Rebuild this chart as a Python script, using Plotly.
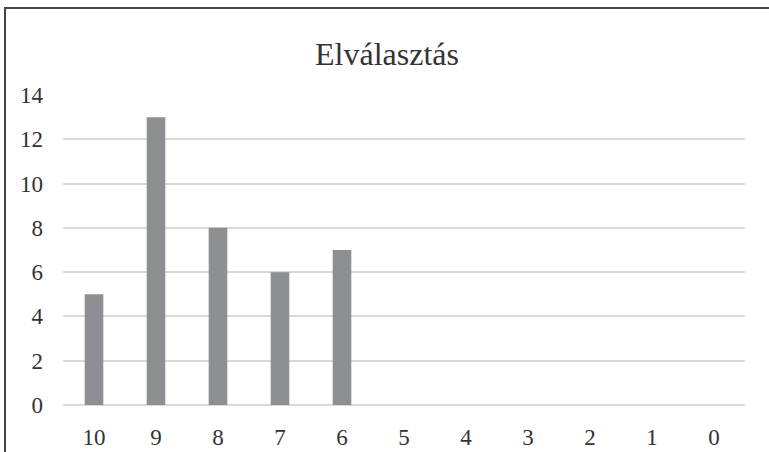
import plotly.graph_objects as go

categories = ["10", "9", "8", "7", "6", "5", "4", "3", "2", "1", "0"]
values = [5, 13, 8, 6, 7, 0, 0, 0, 0, 0, 0]
y_ticks = [0, 2, 4, 6, 8, 10, 12, 14]
title_text = "Elválasztás"

W, H = 769, 452
L, R, T, B = 63, 24, 95, 47
pw = W - L - R
ph = H - T - B

fig = go.Figure(go.Bar(
    x=categories, y=values,
    marker=dict(color="#8e8f93", line=dict(width=0)),
    width=0.3,
))

font_family = "Liberation Serif, Times New Roman, serif"

fig.update_layout(
    width=W, height=H,
    margin=dict(l=L, r=R, t=T, b=B, autoexpand=False),
    plot_bgcolor="white", paper_bgcolor="white",
    showlegend=False,
    title=dict(text=title_text, x=(387 - L) / pw, xref="paper", xanchor="center",
               y=1 - 54 / H, yref="container", yanchor="middle",
               font=dict(family=font_family, size=32, color="#333333")),
    font=dict(family=font_family, size=23, color="#333333"),
    xaxis=dict(type="category", showgrid=False, showline=False, zeroline=False,
               automargin=False, ticks="", ticklabelstandoff=16,
               tickfont=dict(size=23)),
    yaxis=dict(range=[0, 14], tickvals=y_ticks, showgrid=True, gridcolor="#d9d9d9",
               gridwidth=1.5, zeroline=True, zerolinecolor="#d9d9d9", zerolinewidth=1.5,
               automargin=False, showline=False, ticks="", ticklabelstandoff=19,
               tickfont=dict(size=23)),
)

# outer chart border (left and top edges visible)
x0 = (5 - L) / pw
ytop = (H - B - 8) / ph
fig.add_shape(type="path", xref="paper", yref="paper",
              path=f"M {x0} -0.3 L {x0} {ytop} L 1.2 {ytop}",
              line=dict(color="#444444", width=2))

fig.write_html("out.html", config={"displayModeBar": False},
               post_script="document.body.style.margin='0';document.body.style.overflow='hidden';")
